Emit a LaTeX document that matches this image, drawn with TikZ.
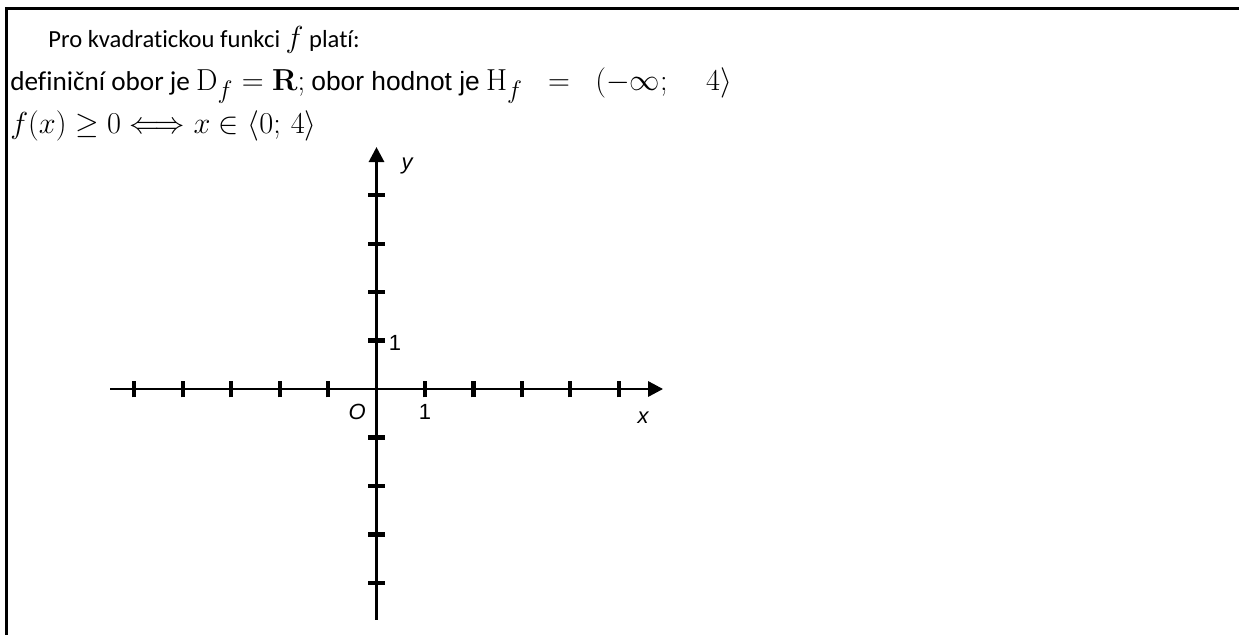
\documentclass[tikz,border=0pt]{standalone}
\usepackage{amssymb}
\usepackage[no-math]{fontspec}
\setmainfont{Carlito}[Ligatures=NoCommon]
\newfontfamily\arialfont{Liberation Sans}
\newcommand\mathsz{\fontsize{19}{23}\selectfont}
\usetikzlibrary{arrows.meta}
\tikzset{
  axisline/.style={line width=1.7pt, -{Triangle[length=0.3cm,width=0.3cm]}},
  tickmark/.style={line width=2.3pt},
  axlabel/.style={font=\arialfont\fontsize{12.5}{14}\selectfont, inner sep=0pt},
  txt/.style={anchor=base west, inner sep=0pt, font=\fontsize{15.5}{18}\selectfont}
}
\begin{document}
\begin{tikzpicture}[x=0.02cm,y=-0.02cm]
    \useasboundingbox (0,0) rectangle (1239,635);

    % Frame
    \draw[line width=1.7pt, line cap=rect] (1239,8.5) -- (6.5,8.5) -- (6.5,633);

    % Text
    \node[txt, font=\fontsize{14}{17}\selectfont] (line1) at (48,48) {Pro kvadratickou funkci {\fontsize{18.5}{22}\selectfont$f$} platí:};
    \node[txt] (line2) at (10,91) {definiční obor je {\mathsz$\mathrm{D}_f=\mathbf{R;}$} {\arialfont\fontsize{15}{18}\selectfont obor hodnot je} {\mathsz$\mathrm{H}_f\;\;=\;\;(-\infty;\quad 4\rangle$}};
    \node[txt] (line3) at (10,133) {\mathsz$f(x)\geq 0\Longleftrightarrow x\in\langle 0;\,4\rangle$};

    % Axes
    \begin{scope}[shift={(376.5,389)}, x=0.97cm, y=0.97cm]
        \coordinate (O) at (0,0);
        \coordinate (xmin) at (-5.49,0);
        \coordinate (xmax) at (5.91,0);
        \coordinate (ymin) at (0,-4.76);
        \coordinate (ymax) at (0,4.99);
        \draw[axisline] (xmin) -- (xmax);
        \draw[axisline] (ymin) -- (ymax);
        \foreach \i in {-5,...,-1,1,2,...,5}
            \draw[tickmark] (\i,-0.175) -- (\i,0.175);
        \foreach \i in {-4,...,-1,1,2,...,4}
            \draw[tickmark] (-0.175,\i) -- (0.175,\i);
        \node[axlabel] (olabel) at (-0.4,-0.47) {\itshape O};
        \node[axlabel] (xone) at (1,-0.48) {1};
        \node[axlabel] (yone) at (0.38,0.95) {1};
        \node[axlabel] (xlabel) at (5.5,-0.6) {\itshape x};
        \node[axlabel] (ylabel) at (0.63,4.6) {\itshape y};
    \end{scope}
\end{tikzpicture}
\end{document}
